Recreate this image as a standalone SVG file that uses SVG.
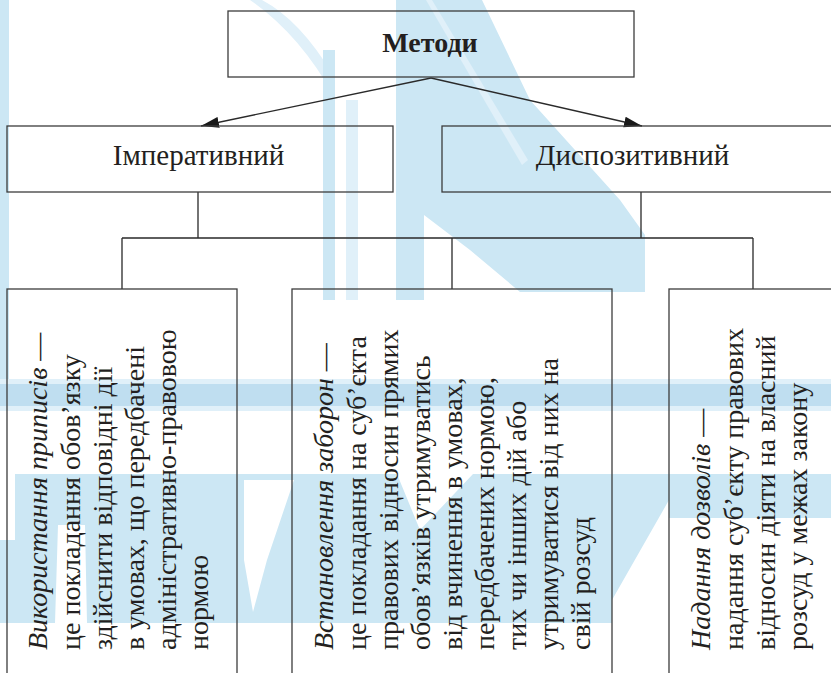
<svg xmlns="http://www.w3.org/2000/svg" width="831" height="673" viewBox="0 0 831 673">
<defs>
<style>
.box{fill:none;stroke:#3c3c3c;stroke-width:1.3}
#connectors line,#connectors path{fill:none;stroke:#2a2a2a;stroke-width:1.3}
.t{font-family:"Liberation Serif","DejaVu Serif",serif;font-size:28px;fill:#231f20}
.c{text-anchor:middle}
.l2{font-size:29px}
.b{font-weight:bold}
.i{font-style:italic}
.wm{fill:#cce7f4}
.wm2{fill:#bfdef0}
.wm3{fill:#e0f0f9}
</style>
<marker id="ah" markerUnits="userSpaceOnUse" markerWidth="18" markerHeight="12" refX="18" refY="6" orient="auto"><path d="M0,0.5 L18,6 L0,11.5 z" fill="#1a1a1a"/></marker>
</defs>
<rect width="831" height="673" fill="#ffffff"/>
<g id="watermark">
<rect class="wm" x="0" y="0" width="9" height="410"/>
<path class="wm3" d="M262,0 Q300,20 333,75 L333,95 Q300,35 250,0 Z"/>
<rect class="wm" x="323" y="50" width="12" height="250"/>
<rect class="wm3" x="346" y="100" width="12" height="200"/>
<polygon class="wm" points="396,0 482,0 530,100 620,200 645,235 645,292 520,292 470,250 424,215 424,300 396,300"/>
<polygon class="wm3" points="426,0 432,0 528,160 522,165"/>
<rect class="wm3" x="0" y="379" width="831" height="32"/>
<rect class="wm2" x="0" y="384" width="831" height="22"/>
<polygon class="wm" points="15,474 397,474 420,530 473,474 612,474 831,474 831,518 669,518 669,500 612,600 612,623 87,623 85,525 58,525 55,623 0,623 0,540 15,540"/>
<polygon fill="#ffffff" points="244,480 294,480 267,560 253,612 244,560"/>
</g>
<g id="connectors">
<line x1="431" y1="78" x2="201" y2="126" marker-end="url(#ah)"/>
<line x1="431" y1="78" x2="642" y2="126" marker-end="url(#ah)"/>
<path d="M198,192 V238 M641,192 V238 M122,238 H753 M122,238 V289 M452,238 V289 M753,238 V289"/>
</g>
<g id="n-metody">
<rect class="box" x="228" y="11" width="406" height="66"/>
<text class="t c b" x="430" y="52">Методи</text>
</g>
<g id="n-imperatyvnyi">
<rect class="box" x="7" y="126" width="386" height="66"/>
<text class="t c l2" x="198.5" y="165">Імперативний</text>
</g>
<g id="n-dyspozytyvnyi">
<rect class="box" x="442" y="126" width="400" height="66"/>
<text class="t c l2" x="632.5" y="165">Диспозитивний</text>
</g>
<g id="n-prypysy">
<rect class="box" x="7" y="289" width="230" height="400"/>
<text class="t" transform="translate(47,650) rotate(-90)"><tspan class="i">Використання приписів</tspan> —</text>
<text class="t" transform="translate(80,650) rotate(-90)">це покладання обов’язку</text>
<text class="t" transform="translate(112,650) rotate(-90)">здійснити відповідні дії</text>
<text class="t" transform="translate(144,650) rotate(-90)">в умовах, що передбачені</text>
<text class="t" transform="translate(176,650) rotate(-90)">адміністративно-правовою</text>
<text class="t" transform="translate(208,650) rotate(-90)">нормою</text>
</g>
<g id="n-zaborony">
<rect class="box" x="292" y="289" width="320" height="400"/>
<text class="t" transform="translate(333,650) rotate(-90)"><tspan class="i">Встановлення заборон</tspan> —</text>
<text class="t" transform="translate(366,650) rotate(-90)">це покладання  на суб’єкта</text>
<text class="t" transform="translate(398,650) rotate(-90)">правових відносин прямих</text>
<text class="t" transform="translate(430,650) rotate(-90)">обов’язків утримуватись</text>
<text class="t" transform="translate(462,650) rotate(-90)">від вчинення в умовах,</text>
<text class="t" transform="translate(494,650) rotate(-90)">передбачених нормою,</text>
<text class="t" transform="translate(526,650) rotate(-90)">тих чи інших дій або</text>
<text class="t" transform="translate(558,650) rotate(-90)">утримуватися від них на</text>
<text class="t" transform="translate(590,650) rotate(-90)">свій розсуд</text>
</g>
<g id="n-dozvoly">
<rect class="box" x="669" y="289" width="200" height="400"/>
<text class="t" transform="translate(710,650) rotate(-90)"><tspan class="i">Надання дозволів</tspan> —</text>
<text class="t" transform="translate(743,650) rotate(-90)">надання суб’єкту правових</text>
<text class="t" transform="translate(775,650) rotate(-90)">відносин діяти на власний</text>
<text class="t" transform="translate(807,650) rotate(-90)">розсуд у межах закону</text>
</g>
</svg>
